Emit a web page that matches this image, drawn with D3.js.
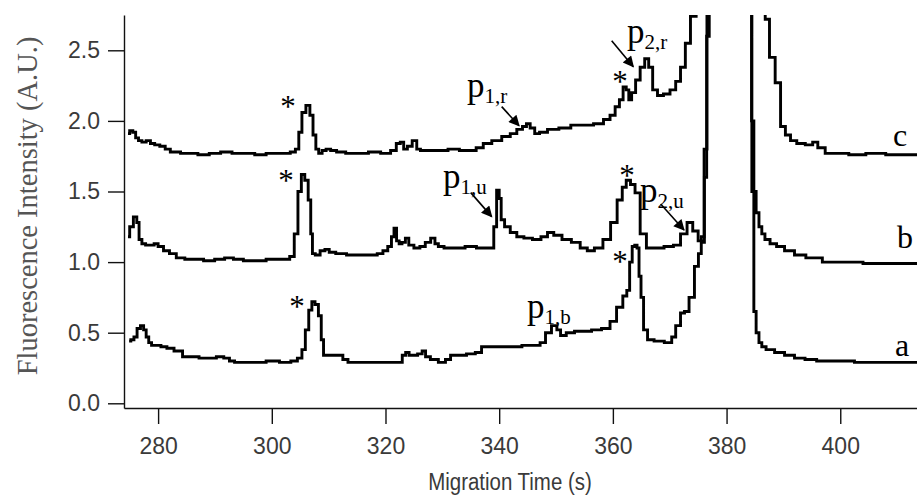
<!DOCTYPE html>
<html>
<head>
<meta charset="utf-8">
<script src="https://cdn.jsdelivr.net/npm/d3@7"></script>
<style>
  html, body { margin: 0; padding: 0; background: #fff; }
  svg { display: block; }
</style>
</head>
<body>
<svg id="chart" width="917" height="498"></svg>
<script>
// Electropherograms: [migration time (s), fluorescence (A.U.)], each trace offset vertically
const traceA = [
  [274.9,0.44],[275.5,0.45],[276.0,0.47],[276.6,0.53],[277.2,0.55],[277.7,0.52],[278.1,0.47],[278.6,0.43],
  [279.1,0.41],[280,0.41],[281,0.40],[282.1,0.39],[283.5,0.37],[285.1,0.33],[286.5,0.33],[287.9,0.32],
  [289.5,0.32],[291,0.33],[292.1,0.32],[293.0,0.30],[293.9,0.29],[296,0.29],[298,0.29],[300,0.30],
  [302.7,0.29],[304.0,0.30],[305.0,0.32],[305.6,0.38],[306.2,0.52],[306.8,0.66],[307.3,0.72],[307.9,0.70],
  [308.5,0.62],[308.9,0.45],[309.3,0.34],[310.5,0.34],[312.0,0.34],[313.0,0.31],[313.8,0.29],[316,0.29],
  [318,0.29],[320,0.29],[322.6,0.29],[323.3,0.34],[323.8,0.36],[324.5,0.34],[325.2,0.34],[326.1,0.35],
  [326.8,0.37],[327.3,0.33],[328.5,0.31],[330.1,0.29],[331.0,0.31],[331.9,0.34],[333.5,0.34],[335,0.35],
  [336.6,0.36],[337.2,0.40],[339,0.40],[341,0.40],[343,0.40],[345,0.41],[346.7,0.41],[347.7,0.43],
  [348.6,0.50],[349.8,0.55],[350.5,0.52],[351.1,0.48],[352.5,0.50],[354,0.51],[355.5,0.51],[357,0.52],
  [359.0,0.53],[360.0,0.58],[361.3,0.68],[362.2,0.76],[362.7,0.80],[363.2,1.00],[363.6,1.11],[364.1,1.12],
  [364.4,1.10],[364.8,0.90],[365.1,0.75],[365.7,0.52],[366.5,0.45],[368,0.44],[370.1,0.43],[370.6,0.47],
  [371.5,0.55],[372.3,0.64],[372.9,0.65],[373.9,0.75],[374.8,0.97],[375.3,1.06],[375.8,1.18],[376.3,1.8],
  [376.8,3.0],[377.5,5.0],[380,8],[383.5,6],[384.3,4],[384.6,1.5],[385.0,0.65],[385.4,0.50],
  [386.0,0.43],[386.4,0.40],[387.5,0.38],[389.4,0.36],[391,0.34],[392.9,0.32],[394.7,0.31],[397,0.30],
  [400,0.30],[405,0.29],[410,0.29],[413.5,0.29]
];

const traceB = [
  [274.7,1.18],[275.3,1.25],[276.0,1.32],[276.5,1.28],[276.8,1.16],[277.5,1.13],[278.1,1.12],[279.0,1.12],
  [279.6,1.13],[280.4,1.11],[281.5,1.08],[282.5,1.06],[283.9,1.03],[285.5,1.02],[287,1.02],[289,1.01],
  [290.9,1.02],[292.5,1.03],[294,1.02],[296,1.01],[298,1.01],[300,1.02],[302.7,1.02],[303.6,1.04],
  [304.3,1.20],[304.9,1.50],[305.5,1.62],[306.1,1.58],[306.7,1.44],[307.0,1.20],[307.3,1.06],[308.0,1.05],
  [309.0,1.08],[309.7,1.09],[310.5,1.07],[312,1.06],[314.3,1.05],[316,1.05],[318,1.05],[319.1,1.06],
  [320.0,1.08],[320.8,1.11],[321.3,1.18],[321.7,1.24],[322.2,1.15],[322.6,1.13],[323.2,1.14],[323.8,1.17],
  [324.4,1.12],[325.6,1.10],[326.5,1.11],[327.5,1.14],[328.4,1.17],[329.0,1.13],[329.6,1.11],[331,1.10],
  [333,1.10],[335,1.11],[337,1.10],[338.8,1.10],[339.3,1.25],[339.8,1.51],[340.2,1.45],[340.5,1.30],
  [341.4,1.25],[342.5,1.21],[343.7,1.18],[345,1.17],[346.7,1.16],[348,1.18],[349.0,1.21],[350.2,1.19],
  [351.9,1.16],[353.5,1.14],[355,1.10],[356.0,1.08],[357.5,1.10],[359.0,1.16],[360.2,1.28],[361.3,1.44],
  [362.0,1.53],[362.7,1.58],[363.5,1.55],[364.3,1.49],[365.3,1.20],[366.5,1.10],[368,1.10],[370,1.11],
  [371.3,1.12],[372.5,1.20],[373.6,1.28],[374.5,1.22],[375.5,1.15],[375.9,1.14],[376.3,1.6],[376.7,2.6],
  [377.2,4.5],[378,7],[381,8],[383.5,6],[384.2,4],[384.6,2.0],[385.0,1.5],[385.4,1.35],
  [386.0,1.25],[386.4,1.20],[387.1,1.16],[388.2,1.13],[389.4,1.11],[391,1.08],[392.9,1.05],[395,1.03],
  [398.7,1.00],[402,1.00],[406,0.99],[410,0.99],[413.5,0.99]
];

const traceC = [
  [274.7,1.91],[275.3,1.93],[275.8,1.92],[276.3,1.88],[276.8,1.86],[277.5,1.85],[278.3,1.86],[279.0,1.84],
  [279.8,1.83],[280.8,1.82],[281.7,1.80],[282.6,1.78],[283.5,1.78],[284.4,1.77],[286,1.77],[288,1.76],
  [290,1.77],[292,1.78],[294,1.77],[296,1.77],[298,1.76],[300,1.77],[302.7,1.77],[303.8,1.78],
  [304.5,1.80],[305.0,1.92],[305.6,2.06],[306.4,2.11],[307.0,2.04],[307.5,1.90],[308.0,1.80],[308.5,1.77],
  [309.2,1.79],[309.9,1.80],[310.8,1.79],[312,1.78],[314,1.77],[316,1.77],[318,1.78],[320.3,1.77],
  [321.5,1.79],[322.3,1.84],[322.9,1.85],[323.5,1.80],[324.2,1.82],[325.2,1.86],[325.8,1.80],[326.5,1.79],
  [328,1.79],[330,1.79],[332,1.80],[334,1.79],[335.4,1.79],[336.5,1.81],[337.9,1.84],[339.5,1.86],
  [341.4,1.89],[342.5,1.91],[343.7,1.94],[344.5,1.96],[345.1,1.98],[345.8,1.95],[346.7,1.91],[347.5,1.92],
  [349.5,1.94],[351.5,1.95],[353.7,1.97],[355.5,1.97],[357.7,1.98],[359,2.01],[360.0,2.04],[360.8,2.10],
  [361.5,2.15],[362.1,2.24],[362.6,2.22],[363.0,2.15],[363.6,2.20],[364.4,2.29],[365.2,2.38],[366.0,2.44],
  [366.6,2.38],[367.4,2.22],[368.3,2.18],[369.5,2.19],[370.6,2.22],[371.5,2.28],[372.3,2.38],[373.2,2.55],
  [374.1,2.74],[375.2,3.1],[376.2,3.6],[377,5],[380,7],[383,6],[385.5,4],[386.5,3.2],
  [387.1,2.72],[388,2.45],[389.1,2.27],[389.9,1.96],[390.8,1.90],[391.7,1.86],[393,1.84],[394.7,1.83],
  [395.6,1.85],[396.5,1.81],[398.2,1.77],[400,1.77],[403,1.76],[406,1.77],[410,1.76],[413.5,1.76]
];

const timeTicks = [280, 300, 320, 340, 360, 380, 400];
const intensityTicks = [0.0, 0.5, 1.0, 1.5, 2.0, 2.5];
const traceLabels = ["a", "b", "c"];

// Marked peaks: asterisks and labelled product peaks (data coordinates)
const starMarks = [
  [302.85, 2.127], [302.5, 1.603], [304.43, 0.710],
  [361.25, 1.029], [362.48, 1.638], [361.25, 2.304]
];
const peakNames = [
  { base: "p", sub: "1,r", t: 334.34, v: 2.169, arrow: [340.44, 2.101, 343.49, 1.966] },
  { base: "p", sub: "2,r", t: 362.48, v: 2.552, arrow: [359.79, 2.568, 363.59, 2.384] },
  { base: "p", sub: "1,u", t: 330.12, v: 1.525, arrow: [334.99, 1.492, 338.68, 1.322] },
  { base: "p", sub: "2,u", t: 364.77, v: 1.426, arrow: [368.41, 1.411, 372.51, 1.227] },
  { base: "p", sub: "1,b", t: 344.89, v: 0.604, arrow: null }
];
const traceLabelPos = [[409.63, 0.335], [409.98, 1.100], [409.28, 1.822]];

const svg = d3.select("#chart");
const plotLeft = 124, plotRight = 917, plotTop = 15, plotBottom = 408;

const x = d3.scaleLinear().domain([274, 413.5]).range([plotLeft, plotRight]);
const y = d3.scaleLinear().domain([-0.0333, 2.75]).range([plotBottom, plotTop]);

const defs = svg.append("defs");
defs.append("clipPath").attr("id", "plotClip")
  .append("rect").attr("x", plotLeft).attr("y", plotTop)
  .attr("width", plotRight - plotLeft).attr("height", plotBottom - plotTop);

defs.append("marker")
  .attr("id", "arrowHead").attr("viewBox", "0 0 10 10")
  .attr("refX", 9).attr("refY", 5)
  .attr("markerWidth", 13).attr("markerHeight", 11)
  .attr("markerUnits", "userSpaceOnUse")
  .attr("orient", "auto")
  .append("path").attr("d", "M0,0 L10,5 L0,10 Z").attr("fill", "#000");

// Axes
const xAxis = d3.axisBottom(x).tickValues(timeTicks).tickSize(16).tickSizeOuter(0).tickPadding(14)
  .tickFormat(d3.format("d"));
const yAxis = d3.axisLeft(y).tickValues(intensityTicks).tickSize(16).tickSizeOuter(0).tickPadding(8)
  .tickFormat(d3.format(".1f"));

const gx = svg.append("g").attr("transform", `translate(0,${plotBottom})`).call(xAxis);
const gy = svg.append("g").attr("transform", `translate(${plotLeft},0)`).call(yAxis);

[gx, gy].forEach(g => {
  g.select(".domain").attr("stroke", "#111").attr("stroke-width", 1.4);
  g.selectAll(".tick line").attr("stroke", "#111").attr("stroke-width", 1.4);
  g.selectAll(".tick text")
    .attr("fill", "#3a3a3a")
    .style("font-family", "'Liberation Sans', Arial, sans-serif")
    .style("font-size", "23px");
});

svg.append("text")
  .attr("transform", "translate(510,490) scale(0.87,1)")
  .attr("text-anchor", "middle")
  .attr("fill", "#3a3a3a")
  .style("font-family", "'Liberation Sans', Arial, sans-serif")
  .style("font-size", "23.5px")
  .text("Migration Time (s)");

svg.append("text")
  .attr("transform", "translate(37,206) rotate(-90)")
  .attr("text-anchor", "middle")
  .attr("fill", "#555")
  .style("font-family", "'Liberation Serif', 'Times New Roman', serif")
  .style("font-size", "28.5px")
  .text("Fluorescence Intensity (A.U.)");

// Traces (detector output is sampled, so draw as a step trace)
const line = d3.line().x(d => x(d[0])).y(d => y(d[1])).curve(d3.curveStep);
const plot = svg.append("g").attr("clip-path", "url(#plotClip)");
plot.selectAll("path.trace")
  .data([traceA, traceB, traceC])
  .join("path")
  .attr("class", "trace")
  .attr("d", line)
  .attr("fill", "none")
  .attr("stroke", "#000")
  .attr("stroke-width", 2.9)
  .attr("stroke-linejoin", "miter");

// Annotations
const serif = "'Liberation Serif', 'Times New Roman', serif";
svg.selectAll("text.star")
  .data(starMarks)
  .join("text")
  .attr("class", "star")
  .attr("x", d => x(d[0]))
  .attr("y", d => y(d[1]) + 14)
  .attr("text-anchor", "middle")
  .style("font-family", serif)
  .style("font-size", "31px")
  .text("*");

const names = svg.selectAll("text.peak")
  .data(peakNames)
  .join("text")
  .attr("class", "peak")
  .attr("x", d => x(d.t))
  .attr("y", d => y(d.v))
  .style("font-family", serif);
names.append("tspan").style("font-size", "35px").text(d => d.base);
names.append("tspan").attr("dy", 6).style("font-size", "21px").text(d => d.sub);

svg.selectAll("line.arrow")
  .data(peakNames.filter(d => d.arrow))
  .join("line")
  .attr("class", "arrow")
  .attr("x1", d => x(d.arrow[0])).attr("y1", d => y(d.arrow[1]))
  .attr("x2", d => x(d.arrow[2])).attr("y2", d => y(d.arrow[3]))
  .attr("stroke", "#000").attr("stroke-width", 1.6)
  .attr("marker-end", "url(#arrowHead)");

svg.selectAll("text.tracelabel")
  .data(traceLabels)
  .join("text")
  .attr("class", "tracelabel")
  .attr("x", (d, i) => x(traceLabelPos[i][0]))
  .attr("y", (d, i) => y(traceLabelPos[i][1]))
  .style("font-family", serif)
  .style("font-size", "32px")
  .text(d => d);
</script>
</body>
</html>
